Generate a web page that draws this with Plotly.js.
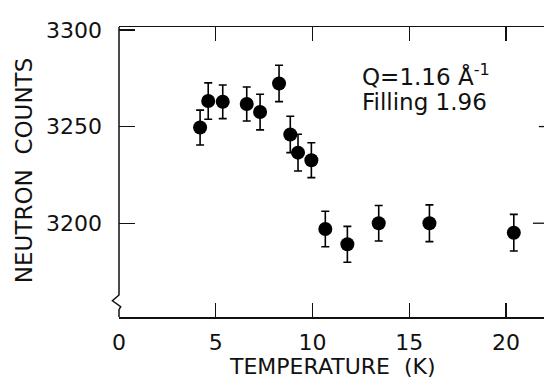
<!DOCTYPE html>
<html>
<head>
<meta charset="utf-8">
<script src="https://cdn.plot.ly/plotly-3.0.1.min.js"></script>
<style>html,body{margin:0;padding:0;background:#fff;}#chart{width:544px;height:381px;}</style>
</head>
<body>
<div id="chart"></div>
<script>
// Data
const temperatureK = [4.19, 4.61, 5.36, 6.60, 7.29, 8.27, 8.85, 9.25, 9.94, 10.66, 11.80, 13.42, 16.04, 20.40];
const neutronCounts = [3249.5, 3263.2, 3262.8, 3261.7, 3257.5, 3272.3, 3245.9, 3236.5, 3232.6, 3197.0, 3189.1, 3200.0, 3200.0, 3195.1];
const countErrors = [9.0, 9.4, 8.7, 8.8, 9.2, 9.4, 9.4, 9.5, 9.0, 9.2, 9.3, 9.2, 9.5, 9.5];
const xTickVals = [0, 5, 10, 15, 20];
const yTickVals = [3200, 3250, 3300];
const xTitle = 'TEMPERATURE  (K)';
const yTitle = 'NEUTRON  COUNTS';
const noteLines = ['Q=1.16 Å<sup>-1</sup>', 'Filling 1.96'];

const FONT = 'DejaVu Sans, sans-serif';

const trace = {
  x: temperatureK,
  y: neutronCounts,
  mode: 'markers',
  type: 'scatter',
  marker: {color: '#000', size: 14, line: {width: 0}},
  error_y: {type: 'data', array: countErrors, visible: true, color: '#000', thickness: 1.6, width: 4},
  showlegend: false,
  hoverinfo: 'x+y'
};

const layout = {
  width: 544,
  height: 381,
  margin: {l: 119, r: 0, t: 27, b: 64, pad: 0},
  paper_bgcolor: '#fff',
  plot_bgcolor: '#fff',
  font: {family: FONT, color: '#111', size: 22},
  xaxis: {
    range: [0, 21.96],
    tickvals: xTickVals,
    ticks: 'inside',
    ticklen: 14,
    tickwidth: 1.3,
    tickcolor: '#111',
    showline: true,
    linecolor: '#111',
    linewidth: 1.5,
    mirror: 'ticks',
    showgrid: false,
    zeroline: false,
    tickfont: {family: FONT, size: 22, color: '#111'},
    ticklabelstandoff: 5
  },
  yaxis: {
    range: [3151.5, 3301.5],
    tickvals: yTickVals,
    ticks: 'inside',
    ticklen: 16,
    tickwidth: 1.3,
    tickcolor: '#111',
    showline: false,
    showgrid: false,
    zeroline: false,
    tickfont: {family: FONT, size: 22, color: '#111'},
    ticklabelstandoff: 16
  },
  shapes: [
    {type: 'path', xref: 'paper', yref: 'paper',
     path: 'M 0,1 L 0,0.076 L -0.0155,0.056 L 0.004,0.0355 L 0,0.025 L 0,0',
     line: {color: '#111', width: 1.5}},
    {type: 'line', xref: 'paper', yref: 'y', x0: 0.988, x1: 1, y0: 3250, y1: 3250,
     line: {color: '#111', width: 1.3}},
    {type: 'line', xref: 'paper', yref: 'y', x0: 0.974, x1: 1, y0: 3200, y1: 3200,
     line: {color: '#111', width: 1.3}}
  ],
  annotations: [
    {xref: 'paper', yref: 'paper', x: 0.5035, y: -0.172, xanchor: 'center', yanchor: 'middle',
     text: xTitle, showarrow: false, font: {family: FONT, size: 22, color: '#111'}},
    {xref: 'paper', yref: 'paper', x: -0.2235, y: 0.503, xanchor: 'center', yanchor: 'middle',
     text: yTitle, textangle: -90, showarrow: false, font: {family: FONT, size: 23, color: '#111'}},
    {xref: 'paper', yref: 'paper', x: 0.567, y: 0.834, xanchor: 'left', yanchor: 'middle',
     text: noteLines[0], showarrow: false, font: {family: FONT, size: 23, color: '#111'}},
    {xref: 'paper', yref: 'paper', x: 0.567, y: 0.741, xanchor: 'left', yanchor: 'middle',
     text: noteLines[1], showarrow: false, font: {family: FONT, size: 23, color: '#111'}}
  ]
};

Plotly.newPlot('chart', [trace], layout, {staticPlot: true, displayModeBar: false});
</script>
</body>
</html>
